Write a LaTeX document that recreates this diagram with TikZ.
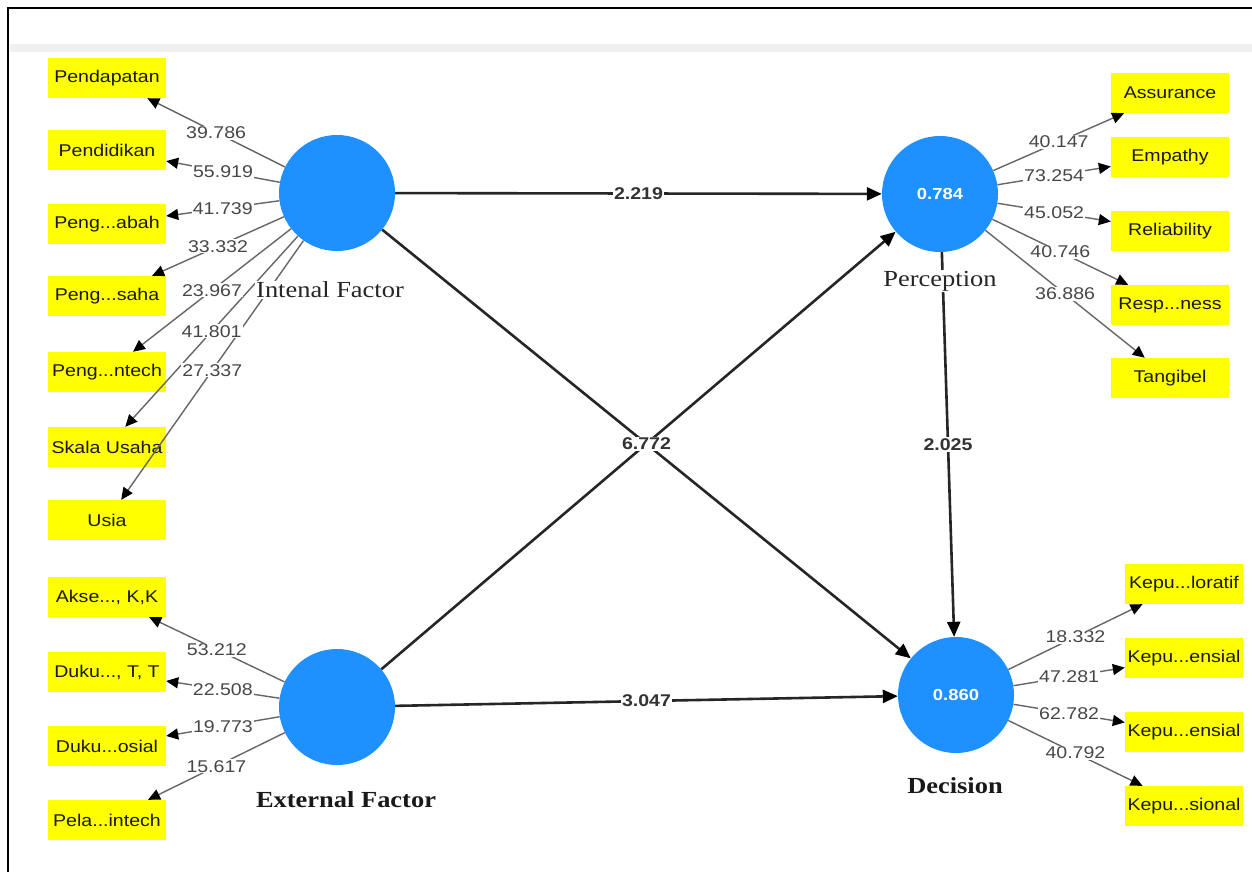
\documentclass[tikz,border=0pt]{standalone}
\usepackage{fontspec}
\setmainfont{Liberation Serif}
\setsansfont{Liberation Sans}
\usetikzlibrary{arrows.meta}
\definecolor{lvblue}{RGB}{30,144,255}
\definecolor{indyellow}{RGB}{255,255,0}
\newcommand{\stretchx}[1]{\scalebox{1.15}[1]{#1}}
\begin{document}
\begin{tikzpicture}[x=1pt,y=-1pt,
  lv/.style={circle,fill=lvblue,minimum size=116pt,inner sep=0pt,text=white,font=\sffamily\bfseries\fontsize{16}{18}\selectfont},
  ind/.style={fill=indyellow,minimum width=118pt,minimum height=40pt,inner sep=0pt,text=black!90,font=\sffamily\fontsize{17}{19}\selectfont},
  ld/.style={draw=black!60,line width=1.4pt,-{Triangle[length=12pt,width=11pt,color=black]}},
  sp/.style={draw=black!85,line width=2.6pt,-{Triangle[length=15pt,width=13pt,color=black]}},
  wt/.style={fill=white,inner sep=1pt,text=black!72,font=\sffamily\fontsize{17}{19}\selectfont},
  swt/.style={fill=white,inner sep=1pt,text=black!80,font=\sffamily\bfseries\fontsize{17}{19}\selectfont},
  lvname/.style={fill=white,inner sep=1pt,text=black!85,font=\rmfamily\fontsize{23}{25}\selectfont},
  lvbold/.style={fill=white,inner sep=1pt,text=black!90,font=\rmfamily\bfseries\fontsize{23}{25}\selectfont}]
\useasboundingbox (0,0) rectangle (1252,872);
\fill[white] (0,0) rectangle (1252,872);
\fill[black!6] (10,44) rectangle (1252,52);
\draw[line width=2pt] (8,872) -- (8,8) -- (1252,8);

% latent variables
\node[lv] (if) at (337,193) {};
\node[lv] (pe) at (940,194) {\stretchx{0.784}};
\node[lv] (ef) at (337,707) {};
\node[lv] (de) at (956,695) {\stretchx{0.860}};

% indicators: internal factor
\node[ind] (i1) at (107,78)  {\stretchx{Pendapatan}};
\node[ind] (i2) at (107,150) {\stretchx{Pendidikan}};
\node[ind] (i3) at (107,224) {\stretchx{Peng...abah}};
\node[ind] (i4) at (107,296) {\stretchx{Peng...saha}};
\node[ind] (i5) at (107,372) {\stretchx{Peng...ntech}};
\node[ind] (i6) at (107,447) {\stretchx{Skala Usaha}};
\node[ind] (i7) at (107,520) {\stretchx{Usia}};
% external factor
\node[ind] (e1) at (107,597) {\stretchx{Akse..., K,K}};
\node[ind] (e2) at (107,672) {\stretchx{Duku..., T, T}};
\node[ind] (e3) at (107,746) {\stretchx{Duku...osial}};
\node[ind] (e4) at (107,820) {\stretchx{Pela...intech}};
% perception
\node[ind] (p1) at (1170,93)  {\stretchx{Assurance}};
\node[ind] (p2) at (1170,157) {\stretchx{Empathy}};
\node[ind] (p3) at (1170,231) {\stretchx{Reliability}};
\node[ind] (p4) at (1170,305) {\stretchx{Resp...ness}};
\node[ind] (p5) at (1170,378) {\stretchx{Tangibel}};
% decision
\node[ind] (d1) at (1184,584) {\stretchx{Kepu...loratif}};
\node[ind] (d2) at (1184,658) {\stretchx{Kepu...ensial}};
\node[ind] (d3) at (1184,732) {\stretchx{Kepu...ensial}};
\node[ind] (d4) at (1184,806) {\stretchx{Kepu...sional}};

% outer loadings (lines first)
\foreach \t in {i1,i2,i3,i4,i5,i6,i7}{\draw[ld] (if) -- coordinate[pos=0.5] (m\t) (\t);}
\foreach \t in {e1,e2,e3,e4}{\draw[ld] (ef) -- coordinate[pos=0.5] (m\t) (\t);}
\foreach \t in {p1,p2,p3,p4,p5}{\draw[ld] (pe) -- coordinate[pos=0.5] (m\t) (\t);}
\foreach \t in {d1,d2,d3,d4}{\draw[ld] (de) -- coordinate[pos=0.5] (m\t) (\t);}

% structural paths
\draw[sp] (if) -- coordinate[pos=0.5] (s1) (pe);
\draw[sp] (if) -- coordinate[pos=0.5] (s2) (de);
\draw[sp] (ef) -- (pe);
\draw[sp] (ef) -- coordinate[pos=0.5] (s3) (de);
\draw[sp] (pe) -- coordinate[pos=0.5] (s4) (de);

% weight labels
\node[wt] (w1) at (mi1) {\stretchx{39.786}};
\node[wt] (w2) at (mi2) {\stretchx{55.919}};
\node[wt] (w3) at (mi3) {\stretchx{41.739}};
\node[wt] (w4) at (mi4) {\stretchx{33.332}};
\node[wt] (w5) at (mi5) {\stretchx{23.967}};
\node[wt] (w6) at (mi6) {\stretchx{41.801}};
\node[wt] (w7) at (mi7) {\stretchx{27.337}};
\node[wt] (x1) at (me1) {\stretchx{53.212}};
\node[wt] (x2) at (me2) {\stretchx{22.508}};
\node[wt] (x3) at (me3) {\stretchx{19.773}};
\node[wt] (x4) at (me4) {\stretchx{15.617}};
\node[wt] (q1) at (mp1) {\stretchx{40.147}};
\node[wt] (q2) at (mp2) {\stretchx{73.254}};
\node[wt] (q3) at (mp3) {\stretchx{45.052}};
\node[wt] (q4) at (mp4) {\stretchx{40.746}};
\node[wt] (q5) at (mp5) {\stretchx{36.886}};
\node[wt] (r1) at (md1) {\stretchx{18.332}};
\node[wt] (r2) at (md2) {\stretchx{47.281}};
\node[wt] (r3) at (md3) {\stretchx{62.782}};
\node[wt] (r4) at (md4) {\stretchx{40.792}};

\node[swt] (t1) at (s1) {\stretchx{2.219}};
\node[swt] (t2) at (s2) {\stretchx{6.772}};
\node[swt] (t3) at (s3) {\stretchx{3.047}};
\node[swt] (t4) at (s4) {\stretchx{2.025}};

% latent variable names
\node[lvname] (nif) at (330,290) {\stretchx{Intenal Factor}};
\node[lvname] (npe) at (940,281) {\stretchx{Perception}};
\node[lvbold] (nef) at (346,800) {\stretchx{External Factor}};
\node[lvbold] (nde) at (955,786) {\stretchx{Decision}};
\end{tikzpicture}
\end{document}
